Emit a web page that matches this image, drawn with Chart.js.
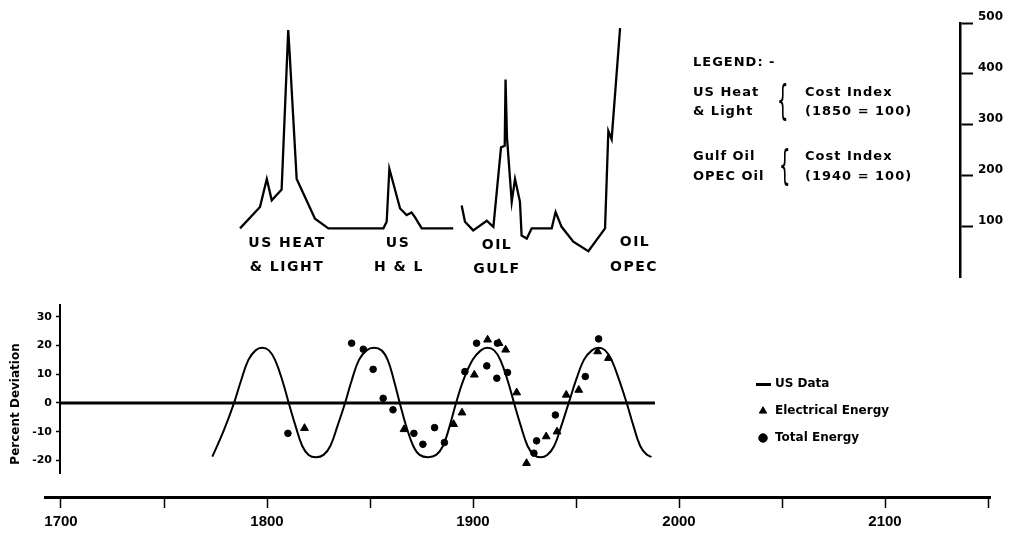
<!DOCTYPE html>
<html>
<head>
<meta charset="utf-8">
<script src="https://cdn.jsdelivr.net/npm/chart.js@4.4.1/dist/chart.umd.min.js"></script>
<style>
  html, body { margin: 0; padding: 0; background: #fff; }
  #stage { position: relative; width: 1013px; height: 535px; overflow: hidden; background: #fff; }
  canvas { position: absolute; }
  .txt { position: absolute; font-family: "DejaVu Sans", sans-serif; font-weight: bold; color: #000;
         white-space: nowrap; line-height: 16px; }
  .curve { font-size: 14px; letter-spacing: 1.5px; text-align: center; width: 100px; }
  .leg { font-size: 13px; letter-spacing: 1px; }
  .brace { position: absolute; font-family: "DejaVu Sans", sans-serif; font-weight: normal; font-size: 40px;
           line-height: 40px; color: #000; transform: scaleX(0.45); transform-origin: left top; }
</style>
</head>
<body>
<div id="stage">
  <canvas id="costChart" width="1013" height="290" style="left:0;top:0"></canvas>
  <canvas id="devChart" width="1013" height="195" style="left:0;top:290px"></canvas>
  <canvas id="devLegend" width="330" height="100" style="left:742px;top:363px"></canvas>
  <canvas id="yearAxis" width="1013" height="65" style="left:0;top:470px"></canvas>

  <!-- curve labels -->
  <div class="txt curve" style="left:237px;top:234px">US HEAT</div>
  <div class="txt curve" style="left:237px;top:258px">&amp; LIGHT</div>
  <div class="txt curve" style="left:348px;top:234px">US</div>
  <div class="txt curve" style="left:349px;top:258px">H &amp; L</div>
  <div class="txt curve" style="left:447px;top:236px">OIL</div>
  <div class="txt curve" style="left:447px;top:260px">GULF</div>
  <div class="txt curve" style="left:585px;top:233px">OIL</div>
  <div class="txt curve" style="left:584px;top:258px">OPEC</div>

  <!-- cost index legend -->
  <div class="txt leg" style="left:693px;top:54px">LEGEND: -</div>
  <div class="txt leg" style="left:693px;top:84px">US Heat</div>
  <div class="txt leg" style="left:693px;top:103px">&amp; Light</div>
  <div class="brace" style="left:777px;top:80px">{</div>
  <div class="txt leg" style="left:805px;top:84px">Cost Index</div>
  <div class="txt leg" style="left:805px;top:103px">(1850 = 100)</div>
  <div class="txt leg" style="left:693px;top:148px">Gulf Oil</div>
  <div class="txt leg" style="left:693px;top:168px">OPEC Oil</div>
  <div class="brace" style="left:779px;top:145px">{</div>
  <div class="txt leg" style="left:805px;top:148px">Cost Index</div>
  <div class="txt leg" style="left:805px;top:168px">(1940 = 100)</div>
</div>

<script>
// ---- cost index (top panel) ----
const US_HL_YEARS = [1786.9, 1796.6, 1799.9, 1802.3, 1807.1, 1810.3, 1811.0, 1814.4, 1823.3, 1829.8,
                     1856.5, 1858.1, 1859.4, 1864.6, 1867.8, 1870.2, 1871.8, 1875.1, 1890.4];
const US_HL_INDEX = [97, 139, 194, 152, 173, 486, 440, 194, 116, 97,
                     97, 110, 214, 136, 123, 128, 119, 97, 97];

const OIL_YEARS = [1894.5, 1896.1, 1900.1, 1906.7, 1908.3, 1909.9, 1913.6, 1915.4, 1915.8, 1916.5,
                   1918.8, 1920.4, 1922.8, 1923.6, 1926.1, 1928.5, 1938.2, 1940.1, 1943.0, 1948.7,
                   1956.0, 1964.1, 1965.7, 1967.3, 1971.4];
const OIL_INDEX = [142, 110, 93, 112, 106, 100, 256, 259, 389, 275,
                   149, 194, 149, 83, 77, 97, 97, 129, 100, 71,
                   52, 97, 288, 272, 490];

const COST_TICKS = [100, 200, 300, 400, 500];

// ---- percent deviation (bottom panel) ----
const CYCLE_YEARS = [1773.9, 1779.6, 1784.5, 1788.0, 1791.5, 1795.0, 1798.2, 1801.5, 1804.5, 1808.0, 1811.2,
                     1814.5, 1817.8, 1820.9, 1824.5, 1828.2, 1831.5, 1835.0, 1838.7, 1842.0, 1845.5, 1849.2,
                     1852.8, 1856.5, 1859.5, 1862.5, 1865.4, 1868.5, 1872.0, 1875.1, 1879.2, 1883.2,
                     1886.5, 1889.8, 1892.9, 1896.5, 1901.0, 1905.0, 1908.2, 1911.5, 1914.5, 1918.0,
                     1921.2, 1924.5, 1927.8, 1930.9, 1934.2, 1937.4, 1940.8, 1944.3, 1947.9, 1951.5,
                     1955.3, 1959.2, 1962.5, 1965.7, 1968.8, 1972.5, 1976.2, 1979.5, 1982.8, 1985.8, 1988.3];
const CYCLE_DEV = [-18.7, -9.4, 0, 8, 15, 18.3, 19.2, 18.3, 15, 8, 0,
                   -8, -15, -18.1, -18.9, -18.1, -15, -8, 0, 8, 15, 18.3,
                   19.2, 18.3, 15, 8, 0, -8, -15, -18.1, -18.9, -18.1,
                   -15, -8, 0, 8, 15, 18.3, 19.2, 18.3, 15, 8,
                   0, -8, -15, -18.1, -18.9, -18.1, -15, -8, 0, 8,
                   15, 18.3, 19.2, 18.3, 15, 8, 0, -8, -15, -17.9, -18.8];

const BASE_YEARS = [1700, 1990];
const BASE_DEV = [0, 0];

const ELEC_YEARS = [1818.9, 1867.5, 1891.7, 1895.8, 1901.8, 1908.3, 1913.9, 1917.1, 1922.5, 1927.3,
                    1936.9, 1942.2, 1946.7, 1952.8, 1962.0, 1967.3];
const ELEC_DEV = [-8.8, -9.2, -7.4, -3.4, 9.8, 22.0, 20.8, 18.5, 3.6, -21.0,
                  -11.7, -10.0, 2.8, 4.5, 17.9, 15.6];

const TOTAL_YEARS = [1810.8, 1841.9, 1847.6, 1852.4, 1857.3, 1862.1, 1872.3, 1876.7, 1882.4, 1887.2,
                     1897.2, 1902.9, 1907.9, 1912.8, 1913.1, 1918.0, 1930.9, 1932.2, 1941.4, 1956.0,
                     1962.5];
const TOTAL_DEV = [-10.6, 20.8, 18.7, 11.7, 1.6, -2.4, -10.6, -14.4, -8.6, -13.8,
                   10.9, 20.8, 12.9, 8.6, 20.8, 10.6, -17.5, -13.2, -4.2, 9.2,
                   22.3];

const DEV_TICKS = [-20, -10, 0, 10, 20, 30];
const YEAR_TICKS = [1700, 1750, 1800, 1850, 1900, 1950, 2000, 2050, 2100, 2150];

// year <-> pixel layout shared by all panels
const PX_1700 = 61;
const PX_PER_YEAR = 2.06;
const yearAtPx = px => 1700 + (px - PX_1700) / PX_PER_YEAR;

const BOLD = "'DejaVu Sans', sans-serif";
const ARIAL = "'Liberation Sans', Arial, sans-serif";

function pairs(xs, ys) {
  return xs.map((x, i) => ({ x, y: ys[i] }));
}

// short thick dash used as the legend marker of the line series
function dashMarker() {
  const c = document.createElement("canvas");
  c.width = 15;
  c.height = 3;
  const g = c.getContext("2d");
  g.fillStyle = "#000";
  g.fillRect(0, 0, 15, 3);
  return c;
}

function renderCostChart() {
  new Chart(document.getElementById("costChart"), {
    type: "line",
    data: {
      datasets: [
        { label: "US Heat & Light", data: pairs(US_HL_YEARS, US_HL_INDEX),
          borderColor: "#000", borderWidth: 2.3, pointRadius: 0, tension: 0 },
        { label: "Gulf Oil / OPEC Oil", data: pairs(OIL_YEARS, OIL_INDEX),
          borderColor: "#000", borderWidth: 2.3, pointRadius: 0, tension: 0 },
      ]
    },
    options: {
      responsive: false,
      animation: false,
      layout: { padding: { left: 0, right: 0, top: 23, bottom: 10 } },
      plugins: { legend: { display: false }, tooltip: { enabled: false } },
      scales: {
        x: { type: "linear", display: false, min: yearAtPx(0), max: yearAtPx(960) },
        y: {
          position: "right", min: 0, max: 500,
          afterFit: s => { s.width = 53; },
          afterBuildTicks: s => { s.ticks = COST_TICKS.map(v => ({ value: v })); },
          grid: { drawOnChartArea: false, tickLength: 13, tickWidth: 2, tickColor: "#000" },
          border: { display: true, color: "#000", width: 2.5 },
          ticks: { color: "#000", padding: 5, labelOffset: -6, font: { family: BOLD, weight: "bold", size: 12 } }
        }
      }
    }
  });
}

function renderDeviationChart() {
  new Chart(document.getElementById("devChart"), {
    type: "line",
    data: {
      datasets: [
        { label: "Zero", data: pairs(BASE_YEARS, BASE_DEV),
          borderColor: "#000", borderWidth: 3, pointRadius: 0 },
        { label: "US Data", data: pairs(CYCLE_YEARS, CYCLE_DEV),
          borderColor: "#000", borderWidth: 2, pointRadius: 0, tension: 0.4 },
        { label: "Electrical Energy", data: pairs(ELEC_YEARS, ELEC_DEV), showLine: false,
          pointStyle: "triangle", pointRadius: 4.5, pointBackgroundColor: "#000", pointBorderColor: "#000" },
        { label: "Total Energy", data: pairs(TOTAL_YEARS, TOTAL_DEV), showLine: false,
          pointStyle: "circle", pointRadius: 3.3, pointBackgroundColor: "#000", pointBorderColor: "#000" },
      ]
    },
    options: {
      responsive: false,
      animation: false,
      layout: { padding: { left: 0, right: 0, top: 15, bottom: 12 } },
      plugins: { legend: { display: false }, tooltip: { enabled: false } },
      scales: {
        x: { type: "linear", display: false, min: yearAtPx(60), max: yearAtPx(1013) },
        y: {
          position: "left", min: -24.4, max: 34.1,
          afterFit: s => { s.width = 60; },
          afterBuildTicks: s => { s.ticks = DEV_TICKS.map(v => ({ value: v })); },
          grid: { drawOnChartArea: false, tickLength: 4, tickWidth: 1.5, tickColor: "#000" },
          border: { display: true, color: "#000", width: 2 },
          ticks: { color: "#000", padding: 4, font: { family: BOLD, weight: "bold", size: 11 } },
          title: { display: true, text: "  Percent Deviation", align: "start", color: "#000",
                   padding: { top: 9, bottom: 0 }, font: { family: BOLD, weight: "bold", size: 12 } }
        }
      }
    }
  });
}

function renderDeviationLegend() {
  new Chart(document.getElementById("devLegend"), {
    type: "line",
    data: {
      datasets: [
        { label: "US Data", data: [], pointStyle: dashMarker(), borderColor: "#000",
          pointBorderColor: "#000", pointBackgroundColor: "#000", pointBorderWidth: 3 },
        { label: "Electrical Energy", data: [], pointStyle: "triangle", borderColor: "#000",
          pointBorderColor: "#000", pointBackgroundColor: "#000", pointBorderWidth: 1 },
        { label: "Total Energy", data: [], pointStyle: "circle", borderColor: "#000",
          pointBorderColor: "#000", pointBackgroundColor: "#000", pointBorderWidth: 1 },
      ]
    },
    options: {
      responsive: false,
      animation: false,
      layout: { padding: 0 },
      scales: { x: { display: false }, y: { display: false } },
      plugins: {
        tooltip: { enabled: false },
        legend: {
          position: "left", align: "start",
          labels: { usePointStyle: true, boxHeight: 6, padding: 15, color: "#000",
                    font: { family: BOLD, weight: "bold", size: 12 } }
        }
      }
    }
  });
}

function renderYearAxis() {
  new Chart(document.getElementById("yearAxis"), {
    type: "line",
    data: { datasets: [] },
    options: {
      responsive: false,
      animation: false,
      layout: { padding: { left: 45, right: 23, top: 0, bottom: 0 } },
      plugins: { legend: { display: false }, tooltip: { enabled: false } },
      scales: {
        x: {
          type: "linear", position: "bottom", min: yearAtPx(45), max: yearAtPx(990),
          afterFit: s => { s.height = 38; },
          afterBuildTicks: s => { s.ticks = YEAR_TICKS.map(v => ({ value: v })); },
          grid: { drawOnChartArea: false, tickLength: 11, tickWidth: 1.5, tickColor: "#000" },
          border: { display: true, color: "#000", width: 3 },
          ticks: {
            color: "#000", padding: 5, maxRotation: 0, autoSkip: false,
            font: { family: ARIAL, weight: "bold", size: 15 },
            callback: v => (v % 100 === 0 && v <= 2100 ? String(v) : "")
          }
        },
        y: { display: false, min: 0, max: 1 }
      }
    }
  });
}

renderCostChart();
renderDeviationChart();
renderDeviationLegend();
renderYearAxis();
</script>
</body>
</html>
